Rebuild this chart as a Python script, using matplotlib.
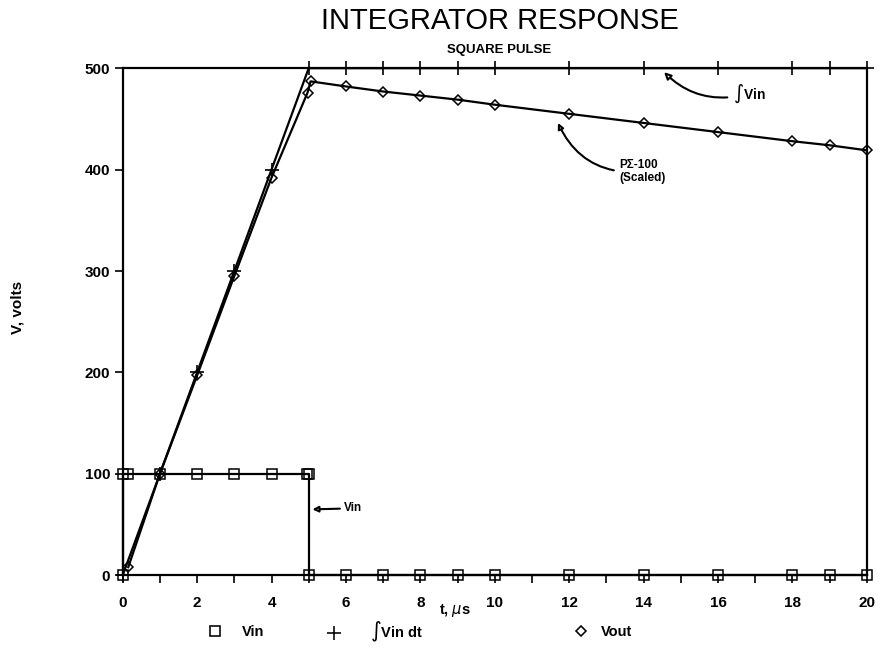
import numpy as np
import matplotlib.pyplot as plt
from matplotlib.lines import Line2D

# data
t_vin = [0, 0, 0.15, 1, 2, 3, 4, 4.95, 5, 5, 6, 7, 8, 9, 10, 12, 14, 16, 18, 19, 20]
vin = [0, 100, 100, 100, 100, 100, 100, 100, 100, 0, 0, 0, 0, 0, 0, 0, 0, 0, 0, 0, 0]

t_int = [0, 1, 2, 3, 4, 5, 6, 7, 8, 9, 10, 12, 14, 16, 18, 19, 20]
int_vin = [0, 100, 200, 300, 400, 500, 500, 500, 500, 500, 500, 500, 500, 500, 500, 500, 500]

t_out = [0.15, 1, 2, 3, 4, 4.97, 5.05, 6, 7, 8, 9, 10, 12, 14, 16, 18, 19, 20]
vout = [8, 100, 197, 295, 392, 476, 487, 482, 477, 473, 469, 464, 455, 446, 437, 428, 424, 419]

xticks = [0, 2, 4, 6, 8, 10, 12, 14, 16, 18, 20]
yticks = [0, 100, 200, 300, 400, 500]

plt.rcParams['font.family'] = ['Liberation Sans', 'DejaVu Sans']

fig = plt.figure(figsize=(8.89, 6.62), dpi=100)
ax = fig.add_axes([0.138, 0.131, 0.837, 0.766])

kw = dict(color='black', lw=1.6, clip_on=False, mfc='none', mec='black')
ax.plot(t_vin, vin, marker='s', ms=7, mew=1.1, **kw)
ax.plot(t_int, int_vin, marker='+', ms=10, mew=1.2, **kw)
ax.plot(t_out, vout, marker='D', ms=5, mew=1.1, **kw)

ax.set_xlim(0, 20)
ax.set_ylim(0, 500)
ax.set_xticks(xticks)
ax.set_xticks(range(0, 21), minor=True)
ax.set_yticks(yticks)
for s in ax.spines.values():
    s.set_linewidth(1.6)
ax.tick_params(axis='both', which='both', direction='out', width=1.2, length=6,
               labelsize=11)
ax.tick_params(axis='x', pad=9)
ax.tick_params(axis='y', pad=3)
for lab in ax.get_xticklabels() + ax.get_yticklabels():
    lab.set_fontweight('bold')

fig.text(0.562, 0.969, 'INTEGRATOR RESPONSE', ha='center', va='center', fontsize=21)
fig.text(0.562, 0.924, 'SQUARE PULSE', ha='center', va='center', fontsize=9.5, fontweight='bold')
fig.text(0.02, 0.535, 'V, volts', rotation=90, ha='center', va='center', fontsize=11, fontweight='bold')
fig.text(0.512, 0.078, r't, $\mu$s', ha='center', va='center', fontsize=10.5, fontweight='bold')

# annotations
arrow = dict(arrowstyle='-|>', ec='black', fc='white', lw=1.5)
ax.annotate(r'$\int$Vin', xy=(14.5, 498), xytext=(16.4, 475), fontsize=10, fontweight='bold',
            va='center', arrowprops=dict(arrow, connectionstyle='arc3,rad=-0.3'))
ax.annotate('PΣ-100\n(Scaled)', xy=(11.7, 446), xytext=(13.35, 398), fontsize=8.5,
            fontweight='bold', ha='left', va='center', linespacing=1.1,
            arrowprops=dict(arrow, connectionstyle='arc3,rad=-0.35', shrinkA=2, shrinkB=0))
ax.annotate('Vin', xy=(5.1, 65), xytext=(5.95, 66), fontsize=8.5, fontweight='bold',
            va='center', arrowprops=dict(arrow, shrinkA=1, shrinkB=0))

# legend, one entry per block so the spacing matches
entries = [('s', 7, 'Vin', 0.234, 1.35),
           ('+', 10, r'$\int$Vin dt', 0.367, 2.0),
           ('D', 5, 'Vout', 0.645, 0.87)]
for mk, ms, lab, x0, pad in entries:
    h = Line2D([], [], ls='none', marker=mk, ms=ms, mfc='none', mec='black', mew=1.15)
    fig.legend([h], [lab], loc='center left', bbox_to_anchor=(x0, 0.045), frameon=False,
               borderpad=0, borderaxespad=0, handlelength=1, handletextpad=pad,
               prop=dict(size=10.5, weight='bold'))

fig.savefig('out.png', dpi=100)
